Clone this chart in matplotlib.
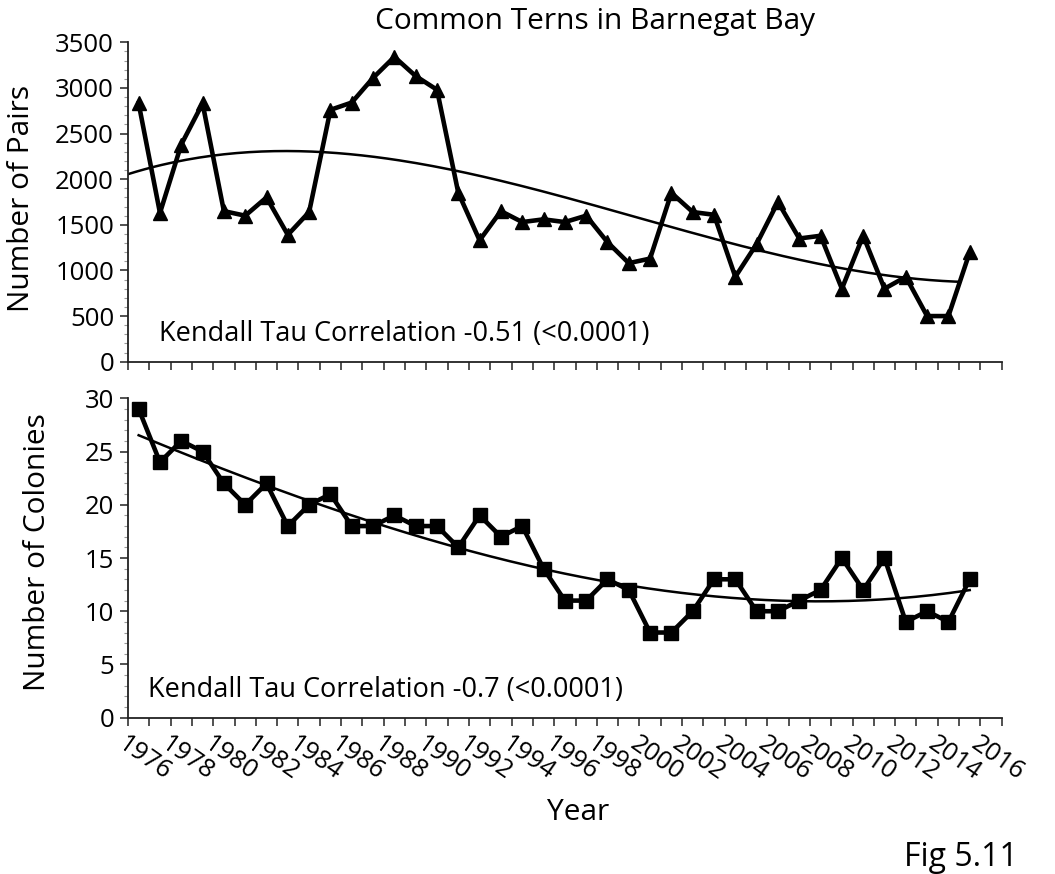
import numpy as np
import matplotlib
matplotlib.use("Agg")
import matplotlib.pyplot as plt
from matplotlib.ticker import MultipleLocator

plt.rcParams['font.family'] = ['Open Sans', 'DejaVu Sans']

# ---- data ----
years = list(range(1976, 2016))
pairs = [2830, 1630, 2380, 2830, 1650, 1600, 1800, 1390, 1640, 2760,
         2840, 3110, 3340, 3130, 2980, 1850, 1330, 1650, 1530, 1560,
         1530, 1600, 1310, 1080, 1130, 1850, 1640, 1610, 930, 1290,
         1750, 1350, 1380, 800, 1380, 800, 930, 500, 500, 1200]
colonies = [29, 24, 26, 25, 22, 20, 22, 18, 20, 21,
            18, 18, 19, 18, 18, 16, 19, 17, 18, 14,
            11, 11, 13, 12, 8, 8, 10, 13, 13, 10,
            10, 11, 12, 15, 12, 15, 9, 10, 9, 13]
title = "Common Terns in Barnegat Bay"
kendall_top = "Kendall Tau Correlation -0.51 (<0.0001)"
kendall_bot = "Kendall Tau Correlation -0.7 (<0.0001)"

yrs = np.array(years, dtype=float)
xc = yrs + 0.5          # category centres
idx = yrs - yrs[0]

fig = plt.figure(figsize=(10.55, 8.74), dpi=100)
L, W, H = 128/1055, 873.7/1055, 319.4/874
ax1 = fig.add_axes([L, 1-361.7/874, W, H])
ax2 = fig.add_axes([L, 1-717.7/874, W, H])

for ax in (ax1, ax2):
    for s in ('top', 'right'):
        ax.spines[s].set_visible(False)
    for s in ('left', 'bottom'):
        ax.spines[s].set_linewidth(1.3)
        ax.spines[s].set_color('#222222')
    ax.set_xlim(1976, 2017)
    ax.xaxis.set_major_locator(MultipleLocator(1))
    ax.tick_params(axis='both', which='major', direction='out', length=6,
                   width=1.1, color='#222222', labelsize=18.5, pad=4)
    ax.tick_params(axis='y', which='minor', direction='out', length=3,
                   width=0.8, color='#999999')

# top panel
ax1.plot(xc, pairs, color='black', lw=3.3, marker='^', ms=10.5, mew=1, zorder=3)
c1 = np.polyfit(idx, pairs, 3)
xt1 = np.linspace(-0.5, idx[-1] - 0.5, 200)
ax1.plot(xt1 + yrs[0] + 0.5, np.polyval(c1, xt1), color='black', lw=1.8, zorder=2)
ax1.set_ylim(0, 3500)
ax1.yaxis.set_major_locator(MultipleLocator(500))
ax1.yaxis.set_minor_locator(MultipleLocator(100))
ax1.set_xticklabels([])
ax1.text(0.035, 0.065, kendall_top, transform=ax1.transAxes, fontsize=19.5,
         ha='left', va='baseline')
fig.text(0.564, 0.992, title, ha='center', va='top', fontsize=21.5)
fig.text(22/1055, 1-198/874, "Number of Pairs", rotation=90, ha='center',
         va='center', fontsize=21.5)

# bottom panel
ax2.plot(xc, colonies, color='black', lw=3.3, marker='s', ms=10.5, mew=1, zorder=3)
c2 = np.polyfit(idx, colonies, 3)
xt2 = np.linspace(0, idx[-1], 200)
ax2.plot(xt2 + yrs[0] + 0.5, np.polyval(c2, xt2), color='black', lw=1.8, zorder=2)
ax2.set_ylim(0, 30)
ax2.yaxis.set_major_locator(MultipleLocator(5))
ax2.yaxis.set_minor_locator(MultipleLocator(1))
fig.text(38/1055, 1-552/874, "Number of Colonies", rotation=90, ha='center',
         va='center', fontsize=21.5)
ax2.text(0.023, 0.065, kendall_bot, transform=ax2.transAxes, fontsize=19.5,
         ha='left', va='baseline')
lbls = []
for y in range(1976, 2018):
    lbls.append(str(y) if (y - 1976) % 2 == 0 and y <= 2016 else '')
ax2.set_xticks(np.arange(1976, 2018))
ax2.set_xticklabels(lbls, rotation=-35, ha='left', va='top',
                    rotation_mode='anchor', fontsize=18.5)
fig.text(578/1055, 1-812/874, "Year", ha='center', va='center', fontsize=21.5)
fig.text(961/1055, 1-858/874, "Fig 5.11", ha='center', va='center', fontsize=23)

fig.savefig("out.png", dpi=100, facecolor='white')
